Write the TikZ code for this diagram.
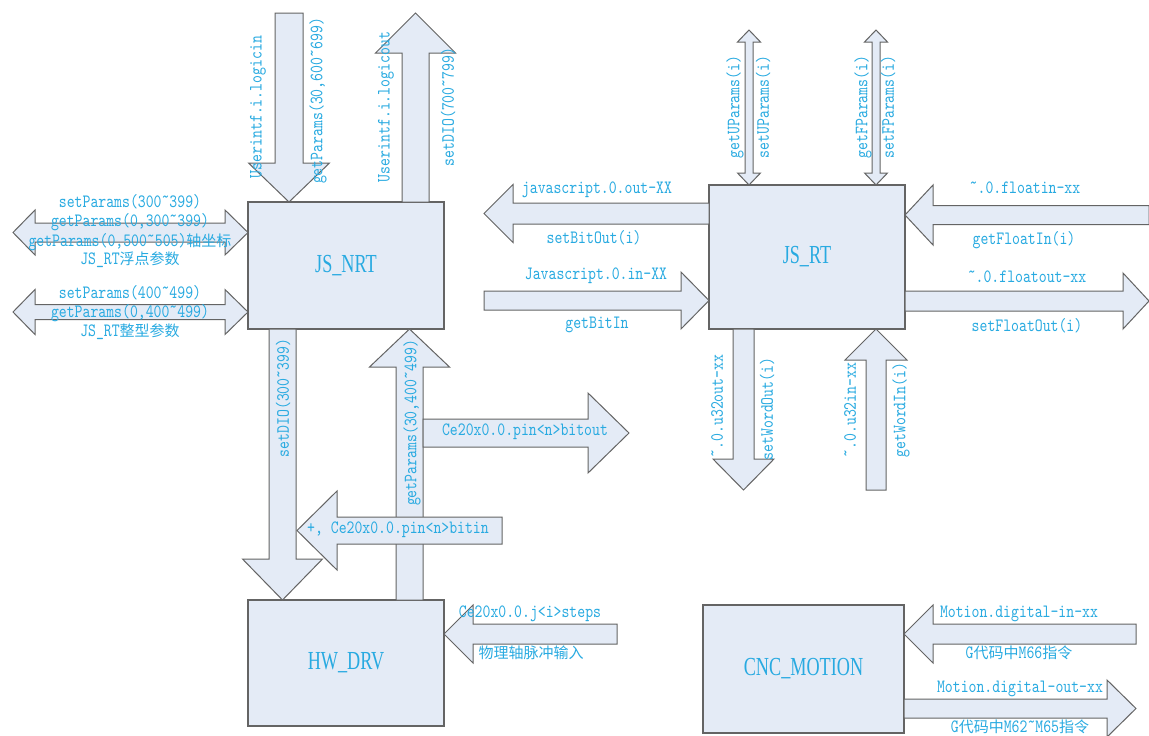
\documentclass[tikz,border=0pt]{standalone}
\usepackage{fontspec}
\newfontfamily\lat[FakeStretch=0.8]{lmmono10-regular.otf}
\newfontfamily\boxfont[FakeStretch=0.7]{Liberation Serif}
\newfontfamily\cjk{Noto Sans CJK SC}
\newcommand\zh[1]{{\cjk\fontsize{15}{15}\selectfont#1}}
\definecolor{txtblue}{RGB}{40,170,225}
\definecolor{boxfill}{RGB}{228,235,246}
\definecolor{edge}{RGB}{100,100,100}
\tikzset{
  box/.style={draw=edge, fill=boxfill, line width=1.1pt, inner sep=0pt,
    text=txtblue, font=\boxfont\fontsize{26}{26}\selectfont},
  blk/.style={draw=edge, fill=boxfill, line width=1pt, line join=miter},
  lbl/.style={text=txtblue, inner sep=0pt, font=\lat\fontsize{18.8}{18.8}\selectfont},
  vlbl/.style={lbl, rotate=90}
}
% horizontal block arrow: tail x, head-base x, tip x, centre y, shaft half-width, head half-width
\newcommand\blockH[6]{\draw[blk] (#1,#4-#5) -- (#2,#4-#5) -- (#2,#4-#6) -- (#3,#4)
  -- (#2,#4+#6) -- (#2,#4+#5) -- (#1,#4+#5) -- cycle;}
% vertical block arrow: tail y, head-base y, tip y, centre x, shaft half-width, head half-width
\newcommand\blockV[6]{\draw[blk] (#4-#5,#1) -- (#4-#5,#2) -- (#4-#6,#2) -- (#4,#3)
  -- (#4+#6,#2) -- (#4+#5,#2) -- (#4+#5,#1) -- cycle;}
% two-headed horizontal arrow: left tip, left base, right base, right tip, y, shaft half, head half
\newcommand\blockHH[7]{\draw[blk] (#1,#5) -- (#2,#5-#7) -- (#2,#5-#6) -- (#3,#5-#6)
  -- (#3,#5-#7) -- (#4,#5) -- (#3,#5+#7) -- (#3,#5+#6) -- (#2,#5+#6) -- (#2,#5+#7) -- cycle;}
% two-headed vertical arrow: top tip, top base, bottom base, bottom tip, x, shaft half, head half
\newcommand\blockVV[7]{\draw[blk] (#5,#1) -- (#5+#7,#2) -- (#5+#6,#2) -- (#5+#6,#3)
  -- (#5+#7,#3) -- (#5,#4) -- (#5-#7,#3) -- (#5-#6,#3) -- (#5-#6,#2) -- (#5-#7,#2) -- cycle;}
\begin{document}
\begin{tikzpicture}[x=1pt,y=-1pt]
\useasboundingbox[fill=white] (0,0) rectangle (1149,736);

% modules
\node[box, minimum width=196pt, minimum height=127pt] (nrt) at (346,265.5) {JS\_NRT};
\node[box, minimum width=196pt, minimum height=144pt] (rt) at (807,257) {JS\_RT};
\node[box, minimum width=196pt, minimum height=126pt] (hw) at (346,663) {HW\_DRV};
\node[box, minimum width=201pt, minimum height=128pt] (cnc) at (803.5,669) {CNC\_MOTION};

% JS_NRT: user interface and parameter channels
\blockV{13}{163}{202}{289}{14}{40.5}
\blockV{202}{53}{13}{415.5}{13.5}{40}
\blockHH{13}{35}{225}{248}{232.5}{9.5}{22.5}
\blockHH{13}{35}{225}{248}{312}{7.5}{22.5}

% JS_RT channels
\blockH{709}{513}{484}{213.5}{10.5}{29}
\blockH{484}{681}{709}{300.5}{9.5}{28.5}
\blockVV{30}{42}{173}{185}{749}{4}{11.5}
\blockVV{30}{42}{173}{185}{876}{4}{11.5}
\blockH{1149}{933}{905}{215}{9.5}{30}
\blockH{905}{1123}{1149}{301}{10}{28}
\blockV{329}{459}{490}{743.5}{10.5}{30.5}
\blockV{490}{360}{329}{876}{10}{31}

% JS_NRT <-> HW_DRV
\blockV{329}{559}{600}{282.5}{13.5}{40}
\blockV{600}{367}{329}{409.5}{13.5}{40}
\blockH{423}{588}{629}{433}{14}{40}
\blockH{502}{337}{297}{530.5}{13.5}{39.5}
\blockH{617}{473}{444}{634}{10}{29}

% CNC_MOTION channels
\blockH{1136}{933}{904}{634}{10}{29}
\blockH{904}{1107}{1136}{708.5}{9.5}{28.5}

% labels
\node[vlbl] (l1) at (258,107) {Userintf.i.logicin};
\node[vlbl] (l2) at (318,101) {getParams(30,600˜699)};
\node[vlbl] (l3) at (386,107) {Userintf.i.logicout};
\node[vlbl] (l4) at (448,107) {setDIO(700˜799)};

\node[lbl] (l5) at (130,202) {setParams(300˜399)};
\node[lbl] (l6) at (130,222) {getParams(0,300˜399)};
\node[lbl] (l7) at (130,242) {getParams(0,500˜505)\zh{轴坐标}};
\node[lbl] (l8) at (130,260) {JS\_RT\zh{浮点参数}};
\node[lbl] (l9) at (130,293) {setParams(400˜499)};
\node[lbl] (l10) at (130,313) {getParams(0,400˜499)};
\node[lbl] (l11) at (130,332) {JS\_RT\zh{整型参数}};

\node[lbl] (l12) at (597,190) {javascript.0.out-XX};
\node[lbl] (l13) at (594,238) {setBitOut(i)};
\node[lbl] (l14) at (596,276) {Javascript.0.in-XX};
\node[lbl] (l15) at (597,325) {getBitIn};

\node[vlbl] (l16) at (735,107) {getUParams(i)};
\node[vlbl] (l17) at (763,107) {setUParams(i)};
\node[vlbl] (l18) at (863,107) {getFParams(i)};
\node[vlbl] (l19) at (888,107) {setFParams(i)};

\node[lbl] (l20) at (1025,188) {˜.0.floatin-xx};
\node[lbl] (l21) at (1024,240) {getFloatIn(i)};
\node[lbl] (l22) at (1027,277) {˜.0.floatout-xx};
\node[lbl] (l23) at (1027,326) {setFloatOut(i)};

\node[vlbl] (l24) at (717,406) {˜.0.u32out-xx};
\node[vlbl] (l25) at (767,409) {setWordOut(i)};
\node[vlbl] (l26) at (850,410) {˜.0.u32in-xx};
\node[vlbl] (l27) at (901,410) {getWordIn(i)};

\node[vlbl] (l28) at (283,398) {setDIO(300˜399)};
\node[vlbl] (l29) at (412,423) {getParams(30,400˜499)};
\node[lbl] (l30) at (525,432) {Ce20x0.0.pin<n>bitout};
\node[lbl] (l31) at (398,530) {+, Ce20x0.0.pin<n>bitin};

\node[lbl] (l32) at (530,614) {Ce20x0.0.j<i>steps};
\node[lbl] (l33) at (531,653) {\zh{物理轴脉冲输入}};

\node[lbl] (l34) at (1019,614) {Motion.digital-in-xx};
\node[lbl] (l35) at (1019,653) {G\zh{代码中}M66\zh{指令}};
\node[lbl] (l36) at (1020,689) {Motion.digital-out-xx};
\node[lbl] (l37) at (1020,727) {G\zh{代码中}M62˜M65\zh{指令}};
\end{tikzpicture}
\end{document}
